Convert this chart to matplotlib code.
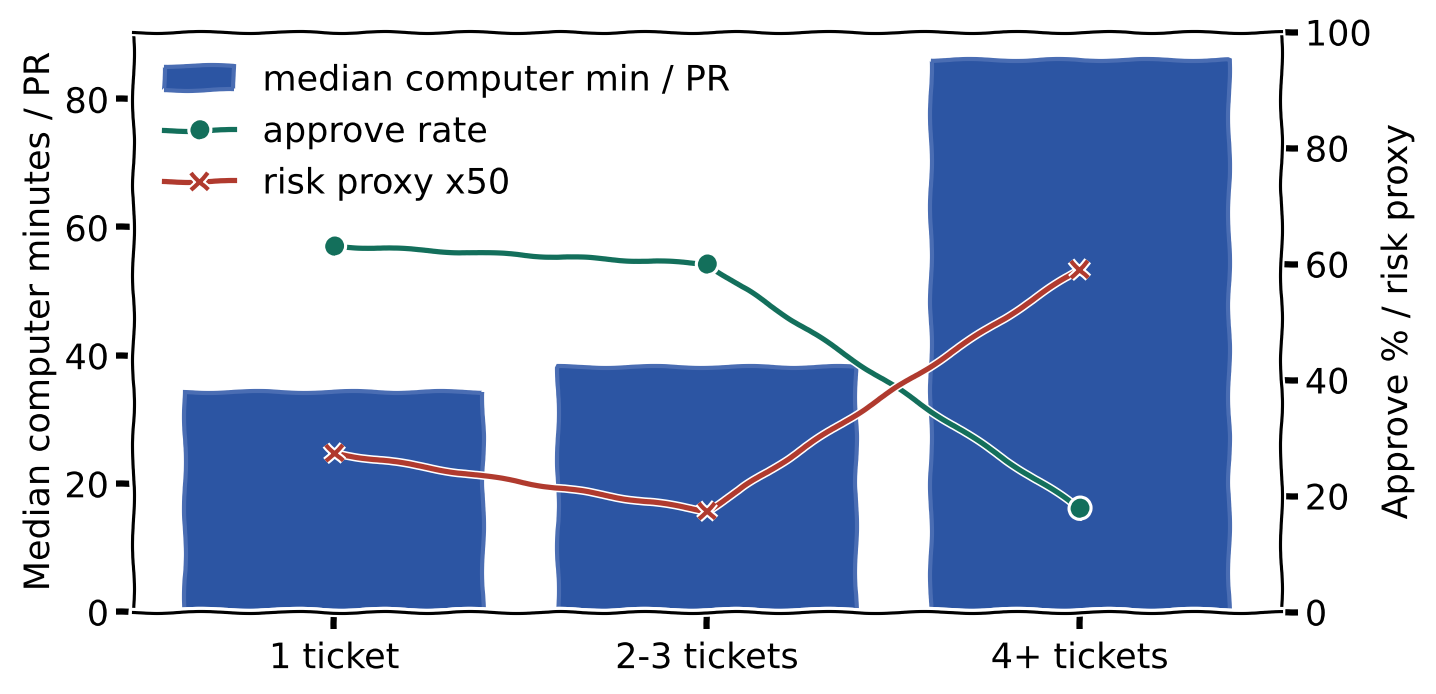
import matplotlib
matplotlib.use("Agg")
import matplotlib.pyplot as plt
import numpy as np

categories = ["1 ticket", "2-3 tickets", "4+ tickets"]
median_minutes = [34.4, 38.3, 86.2]
approve_rate = [63.1, 60.0, 17.9]
risk_proxy_x50 = [27.4, 17.4, 59.1]

with plt.xkcd(scale=1, length=100, randomness=2):
    plt.rcParams['font.family'] = ['DejaVu Sans']
    plt.rcParams['font.size'] = 16.8
    fig = plt.figure(figsize=(1436/150, 694/150), dpi=150)
    ax = fig.add_axes([0.0926, 0.1182, 0.892-0.0926, 0.9539-0.1182])
    x = np.arange(len(categories))
    bars = ax.bar(x, median_minutes, width=0.8, color="#2c55a3",
                  edgecolor="#4a6db3", linewidth=2,
                  label="median computer min / PR")
    ax.set_ylabel("Median computer minutes / PR")
    ax.set_xticks(x)
    ax.set_xticklabels(categories)
    ax.tick_params(axis="x", pad=6)
    ax.set_yticks([0, 20, 40, 60, 80])
    ax.set_ylim(0, max(median_minutes) * 1.05)

    ax2 = ax.twinx()
    l1, = ax2.plot(x, approve_rate, color="#136f5b", marker="o",
                   markersize=8, linewidth=2.5, label="approve rate")
    l2, = ax2.plot(x, risk_proxy_x50, color="#b03a2e", marker="x",
                   markersize=8, markeredgewidth=2, linewidth=2.5,
                   label="risk proxy x50")
    ax2.set_ylim(0, 100)
    ax2.set_yticks([0, 20, 40, 60, 80, 100])
    ax2.set_ylabel("Approve % / risk proxy")

    ax2.legend([bars, l1, l2],
               ["median computer min / PR", "approve rate", "risk proxy x50"],
               loc="upper left", frameon=False)

    fig.savefig("out.png", dpi=150)
